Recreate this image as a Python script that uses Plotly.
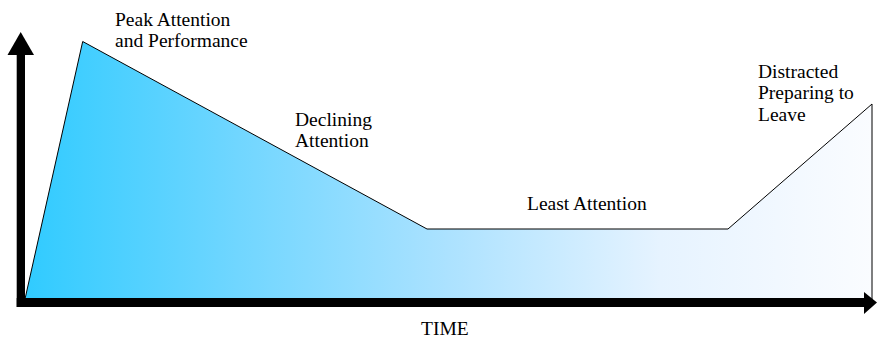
import plotly.graph_objects as go

# Attention level over the course of a session (time and attention in chart units)
time = [4, 61.7, 406, 707, 851, 851]
attention = [3, 260.5, 73, 73, 198, 3]

# Phase labels, one list of lines per phase
phase_labels = [
    ["Peak Attention", "and Performance"],
    ["Declining", "Attention"],
    ["Least Attention"],
    ["Distracted", "Preparing to", "Leave"],
]
label_time = [92.3, 272.3, 565.7, 735]
label_attention = [283, 183, 99, 231]   # first line
label_anchor = ["left", "left", "center", "left"]

axis_title = "TIME"

FONT = "Liberation Serif"
FONT_SIZE = 19.5
LINE_STEP = 21.8

fig = go.Figure()

fig.add_trace(go.Scatter(
    x=time, y=attention,
    mode="lines",
    fill="toself",
    fillgradient=dict(
        type="horizontal",
        colorscale=[
            [0.0, "rgb(48,203,255)"],
            [0.25, "rgb(112,214,255)"],
            [0.5, "rgb(172,226,255)"],
            [0.75, "rgb(230,243,255)"],
            [1.0, "rgb(250,252,255)"],
        ],
    ),
    line=dict(color="black", width=1),
    hoverinfo="skip",
    showlegend=False,
))

for lines, tx, ty, anc in zip(phase_labels, label_time, label_attention, label_anchor):
    for i, line in enumerate(lines):
        fig.add_annotation(
            x=tx, y=ty - i * LINE_STEP, text=line, showarrow=False,
            xanchor=anc, yanchor="middle", align="left",
            font=dict(family=FONT, size=FONT_SIZE, color="black"),
        )

fig.add_annotation(
    x=424, y=-26.7, text=axis_title, showarrow=False,
    xanchor="center", yanchor="middle",
    font=dict(family=FONT, size=FONT_SIZE, color="black"),
)

# Axis arrows
shapes = [
    # vertical shaft and head
    dict(type="rect", x0=-4.3, x1=4, y0=-5, y1=247, fillcolor="black", line_width=0),
    dict(type="path", path="M -13.5,247 L 13,247 L -0.3,270 Z", fillcolor="black", line_width=0),
    # horizontal shaft and head
    dict(type="rect", x0=-4.3, x1=843, y0=-5, y1=4, fillcolor="black", line_width=0),
    dict(type="path", path="M 843,10 L 843,-12 L 856,-0.5 Z", fillcolor="black", line_width=0),
]
for s in shapes:
    s.update(xref="x", yref="y", layer="above")
fig.update_layout(shapes=shapes)

fig.update_layout(
    width=877, height=339,
    margin=dict(l=0, r=0, t=0, b=0),
    paper_bgcolor="white", plot_bgcolor="white",
    font=dict(family=FONT),
    xaxis=dict(range=[-21, 856], visible=False, fixedrange=True),
    yaxis=dict(range=[-37, 302], visible=False, fixedrange=True),
)

fig.write_html("out.html")
